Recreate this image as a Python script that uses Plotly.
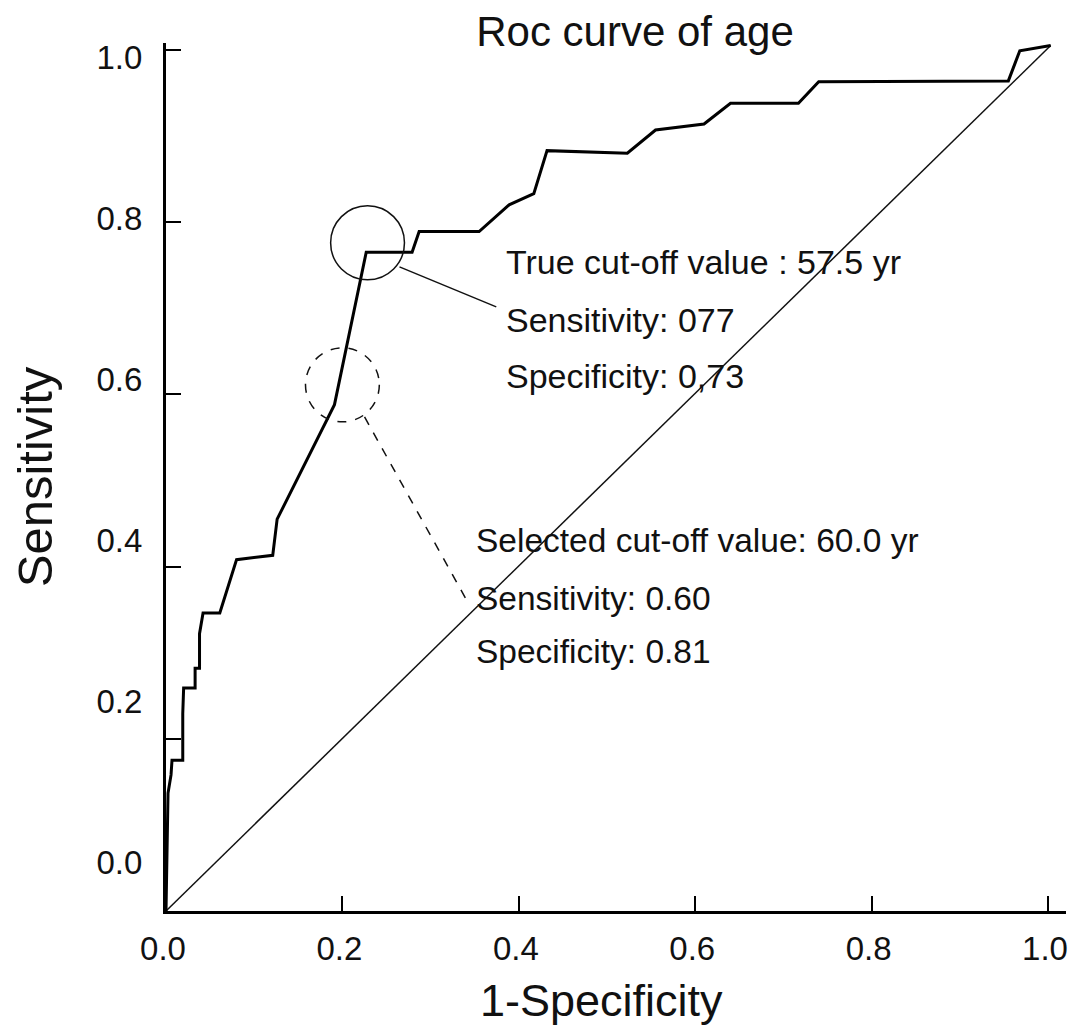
import plotly.graph_objects as go

# ---- data ----
fpr = [0.0, 0.0023, 0.0057, 0.0068, 0.019, 0.019, 0.020, 0.033, 0.033, 0.038, 0.038,
       0.042, 0.061, 0.080, 0.121, 0.126, 0.191, 0.227, 0.279, 0.287, 0.355, 0.389,
       0.417, 0.432, 0.523, 0.555, 0.610, 0.640, 0.717, 0.740, 0.955, 0.968, 1.003]
tpr = [0.0, 0.137, 0.158, 0.175, 0.175, 0.229, 0.259, 0.259, 0.282, 0.282, 0.322,
       0.346, 0.346, 0.408, 0.413, 0.455, 0.588, 0.765, 0.765, 0.789, 0.789, 0.820,
       0.833, 0.883, 0.880, 0.907, 0.914, 0.938, 0.938, 0.963, 0.964, 0.999, 1.005]
diag_x = [0.0, 1.003]
diag_y = [0.0, 1.005]

tick_vals = [0.0, 0.2, 0.4, 0.6, 0.8, 1.0]
tick_text = ["0.0", "0.2", "0.4", "0.6", "0.8", "1.0"]

true_cut = ["True cut-off value : 57.5 yr", "Sensitivity: 077", "Specificity: 0,73"]
sel_cut = ["Selected cut-off value: 60.0 yr", "Sensitivity: 0.60", "Specificity: 0.81"]
true_pt = (0.2285, 0.776)   # circled point (solid)
sel_pt = (0.200, 0.611)     # circled point (dashed)

# ---- pixel helpers for layout (page pixels; body has an 8px margin) ----
O = 8
W, H = 1076 - 2 * O, 1034 - 2 * O
PX0, PX1 = 166, 1050   # page px of x=0, x=1
PY0, PY1 = 911, 50     # page px of y=0, y=1
def X(px): return (px - PX0) / (PX1 - PX0)
def Y(py): return (PY0 - py) / (PY0 - PY1)

xmax = X(O + W)
ymax = 1.008
top_px = (PY0 - O) - ymax * (PY0 - PY1)
plot_w = W - (PX0 - O)
plot_h = ymax * (PY0 - PY1)

FONT = "Liberation Sans, Arial, sans-serif"

fig = go.Figure()
fig.add_trace(go.Scatter(x=diag_x, y=diag_y, mode="lines",
                         line=dict(color="#111", width=1.5), hoverinfo="skip", showlegend=False))
fig.add_trace(go.Scatter(x=fpr, y=tpr, mode="lines",
                         line=dict(color="#000", width=3), showlegend=False))
# empty trace that activates the label axis
fig.add_trace(go.Scatter(x=[], y=[], yaxis="y2", showlegend=False, hoverinfo="skip"))

# circles
r = 37
for (cx, cy), dash in [(true_pt, "solid"), (sel_pt, "dash")]:
    fig.add_shape(type="circle", xref="x", yref="y",
                  x0=cx - r / (PX1 - PX0), x1=cx + r / (PX1 - PX0),
                  y0=cy - r / (PY0 - PY1), y1=cy + r / (PY0 - PY1),
                  line=dict(color="#111", width=1.5, dash=dash))
# connectors
fig.add_shape(type="line", xref="x", yref="y", x0=X(400), y0=Y(267), x1=X(497), y1=Y(307),
              line=dict(color="#111", width=1.5))
fig.add_shape(type="line", xref="x", yref="y", x0=X(365), y0=Y(417), x1=X(470), y1=Y(605),
              line=dict(color="#111", width=1.5, dash="dash"))

# annotation texts
for txt, ypx in zip(true_cut, [262, 320, 376]):
    fig.add_annotation(x=X(505), y=Y(ypx), xref="x", yref="y", text=txt, showarrow=False,
                       xanchor="left", yanchor="middle", font=dict(family=FONT, size=34, color="#111"))
for txt, ypx in zip(sel_cut, [541, 599, 652]):
    fig.add_annotation(x=X(475), y=Y(ypx), xref="x", yref="y", text=txt, showarrow=False,
                       xanchor="left", yanchor="middle", font=dict(family=FONT, size=33.5, color="#111"))

# x-axis title placed as in the picture
fig.add_annotation(x=(602 - PX0) / plot_w, y=(PY0 - 1000) / plot_h, xref="paper", yref="paper",
                   text="1-Specificity", showarrow=False, xanchor="center", yanchor="middle",
                   font=dict(family=FONT, size=45, color="#111"))

# label axis for y (labels drawn on their own scale as in the picture)
lab0, labk = 0.056, 0.935

fig.update_layout(
    width=W, height=H,
    margin=dict(l=PX0 - O, r=0, t=top_px, b=H - (PY0 - O), pad=0),
    paper_bgcolor="white", plot_bgcolor="white",
    font=dict(family=FONT, color="#111"),
    title=dict(text="Roc curve of age", x=(635 - O) / W, xanchor="center", y=1 - (31 - O) / H,
               yanchor="middle", font=dict(family=FONT, size=42, color="#111")),
    xaxis=dict(range=[0, xmax], showgrid=False, zeroline=False, showline=True, linecolor="#000",
               linewidth=3, ticks="inside", ticklen=15, tickwidth=1.5, tickcolor="#000",
               tickvals=tick_vals, ticktext=tick_text, tickfont=dict(family=FONT, size=33, color="#111"),
               ticklabelstandoff=6, ticklabeloverflow="allow", ticklabelshift=-3),
    yaxis=dict(range=[0, ymax], showgrid=False, zeroline=False, showline=True, linecolor="#000",
               linewidth=3, ticks="inside", ticklen=15, tickwidth=1.5, tickcolor="#000",
               tickvals=tick_vals, showticklabels=False,
               title=dict(text="Sensitivity", font=dict(family=FONT, size=49, color="#111"), standoff=110)),
    yaxis2=dict(overlaying="y", side="left", range=[(0 - lab0) / labk, (ymax - lab0) / labk],
                showgrid=False, zeroline=False, showline=False, ticks="outside", ticklen=0,
                tickvals=tick_vals, ticktext=tick_text, ticklabelstandoff=16,
                tickfont=dict(family=FONT, size=33, color="#111")),
)

fig.write_html("out.html")
